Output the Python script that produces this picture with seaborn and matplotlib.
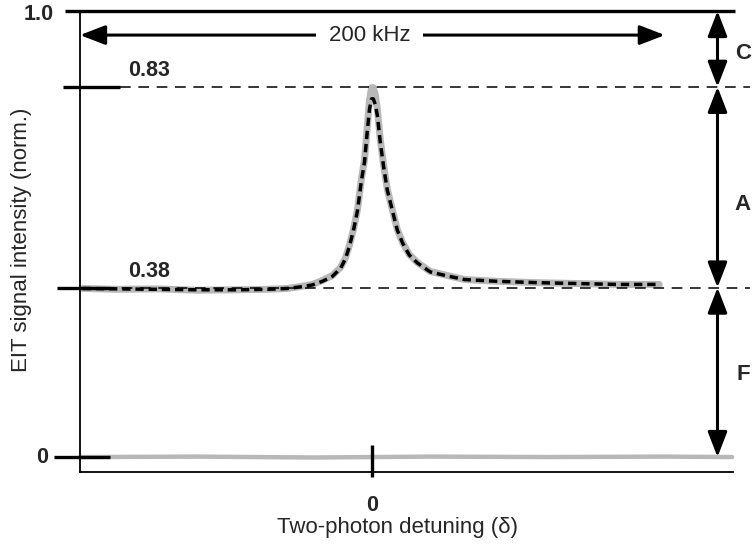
import numpy as np
import pandas as pd
import matplotlib
matplotlib.use("Agg")
import matplotlib.pyplot as plt
import matplotlib.transforms as mtransforms
import seaborn as sns

# ---- data ----
detuning_khz = [-99.1, -87.2, -73.5, -59.8, -46.2, -35.9, -29.1, -23.9, -20.5, -17.1,
                -13.7, -10.9, -9.2, -7.9, -6.5, -5.1, -3.8, -2.7, -1.7, -1.0,
                -0.3, 0.3, 1.0, 1.7, 2.7, 3.8, 5.1, 6.8, 8.5, 10.3,
                12.6, 15.4, 19.8, 25.6, 31.5, 42.7, 56.4, 70.1, 83.8, 98.1]
eit_signal = [0.378, 0.376, 0.377, 0.374, 0.375, 0.376, 0.378, 0.383, 0.387, 0.396,
              0.407, 0.425, 0.447, 0.474, 0.510, 0.555, 0.622, 0.667, 0.745, 0.801,
              0.828, 0.828, 0.812, 0.779, 0.711, 0.655, 0.600, 0.555, 0.510, 0.481,
              0.454, 0.436, 0.416, 0.407, 0.398, 0.394, 0.391, 0.389, 0.387, 0.387]
fit_signal = [0.378, 0.377, 0.376, 0.375, 0.375, 0.376, 0.378, 0.382, 0.386, 0.394,
              0.405, 0.423, 0.445, 0.472, 0.508, 0.553, 0.618, 0.662, 0.735, 0.780,
              0.803, 0.803, 0.790, 0.765, 0.705, 0.652, 0.598, 0.553, 0.509, 0.480,
              0.453, 0.435, 0.415, 0.406, 0.398, 0.394, 0.391, 0.389, 0.387, 0.387]
zero_detuning = [-100.0, -60.0, -20.0, 20.0, 60.0, 100.0, 123.0]
zero_signal = [0.0, 0.001, -0.001, 0.001, 0.0, 0.001, 0.0]

level_values = [1.0, 0.83, 0.38, 0.0]
level_labels = ["1.0", "0.83", "0.38", "0"]
x_tick_values = [0]
x_tick_labels = ["0"]
region_labels = ["C", "A", "F"]
span_label = "200 kHz"
span_khz = [-100, 100]

# ---- style ----
sns.set_theme(style="white")
plt.rcParams['font.family'] = ['Liberation Sans', 'DejaVu Sans']

fig = plt.figure(figsize=(7.56, 5.46), dpi=100)
ax = fig.add_axes([80/756, 1-472/546, 653/756, 461/546])

xmin, xmax = -100, 123.3
ymin, ymax = -0.0335, 1.0
ax.set_xlim(xmin, xmax)
ax.set_ylim(ymin, ymax)

df = pd.DataFrame({"x": detuning_khz, "data": eit_signal, "fit": fit_signal})
dz = pd.DataFrame({"x": zero_detuning, "y": zero_signal})

sns.lineplot(data=dz, x="x", y="y", ax=ax, color="#b8b8b8", lw=3.2, clip_on=False, sort=False)
sns.lineplot(data=df, x="x", y="data", ax=ax, color="#b8b8b8", lw=5.0, sort=False)
sns.lineplot(data=df, x="x", y="fit", ax=ax, color="black", lw=2.5, sort=False,
             dashes=False, linestyle=(0, (2.4, 1.4)))

# spines
for s in ["right", "top"]:
    ax.spines[s].set_visible(False)
ax.spines["left"].set_linewidth(1.3)
ax.spines["bottom"].set_linewidth(1.3)
ax.spines["left"].set_color("black")
ax.spines["bottom"].set_color("black")
ax.set_xticks([])
ax.set_yticks([])
ax.set_xlabel("")
ax.set_ylabel("")

W, H = 653.0, 461.0
blend = mtransforms.blended_transform_factory(ax.transAxes, ax.transData)

# top line at 1.0
ax.plot([-15/W, 655/W], [level_values[0]]*2, transform=blend, color="black", lw=2.4,
        clip_on=False, solid_capstyle="butt", zorder=8)
# level ticks
ax.plot([-17/W, 40/W], [level_values[1]]*2, transform=blend, color="black", lw=2.4, clip_on=False, solid_capstyle="butt")
ax.plot([-23/W, 30/W], [level_values[2]]*2, transform=blend, color="black", lw=2.4, clip_on=False, solid_capstyle="butt")
ax.plot([-26/W, 30/W], [level_values[3]]*2, transform=blend, color="black", lw=2.4, clip_on=False, solid_capstyle="butt")

# dashed reference lines
ax.plot([40/W, 670/W], [level_values[1]]*2, transform=blend, color="black", lw=1.1,
        ls=(0, (7, 5)), clip_on=False)
ax.plot([5/W, 670/W], [level_values[2]]*2, transform=blend, color="black", lw=1.1,
        ls=(0, (7, 5)), clip_on=False)

# level labels
ax.text(-26/W, level_values[0] - 0.008, level_labels[0], transform=blend, ha="right", va="center",
        fontsize=15.5, fontweight="bold")
ax.text(-32/W, level_values[3], level_labels[3], transform=blend, ha="right", va="center",
        fontsize=15.5, fontweight="bold")
ax.text(48/W, level_values[1] + 0.012, level_labels[1], transform=blend, ha="left", va="bottom",
        fontsize=15.5, fontweight="bold")
ax.text(48/W, level_values[2] + 0.012, level_labels[2], transform=blend, ha="left", va="bottom",
        fontsize=15.5, fontweight="bold")

# x tick
blendx = mtransforms.blended_transform_factory(ax.transData, ax.transAxes)
ax.plot([x_tick_values[0]]*2, [-5/H, 27/H], transform=blendx, color="black", lw=2.4,
        clip_on=False, solid_capstyle="butt")
ax.text(x_tick_values[0], -23/H, x_tick_labels[0], transform=blendx, ha="center", va="top",
        fontsize=15.5, fontweight="bold")
ax.text((277 - 80)/W, -45/H, "Two-photon detuning (δ)", transform=ax.transAxes, ha="left",
        va="top", fontsize=16)
fig.text(22/756, 1-108/546, "EIT signal intensity (norm.)", rotation=90, ha="center",
         va="top", fontsize=16)

# top span arrow
y_span = 0.946
astyle = "<|-|>,head_length=0.7,head_width=0.27"
ax.annotate("", xy=(span_khz[0], y_span), xytext=(span_khz[1], y_span),
            arrowprops=dict(arrowstyle=astyle, color="black", lw=2.2, mutation_scale=22,
                            shrinkA=0, shrinkB=0), annotation_clip=False, zorder=3)
ax.text(-1.0, y_span, span_label, ha="center", va="center", fontsize=16, zorder=5,
        bbox=dict(facecolor="white", edgecolor="none", pad=9))

# right region arrows
x_arr = 118.0
bounds = [(level_values[0], level_values[1]), (level_values[1], level_values[2]),
          (level_values[2], level_values[3])]
label_y = [0.904, 0.566, 0.186]
for lab, (a, b), ly in zip(region_labels, bounds, label_y):
    ax.annotate("", xy=(x_arr, a), xytext=(x_arr, b),
                arrowprops=dict(arrowstyle=astyle, color="black", lw=2.2, mutation_scale=22,
                                shrinkA=0, shrinkB=0), annotation_clip=False)
    ax.text(x_arr + 8.7, ly, lab, ha="center", va="center", fontsize=16,
            fontweight="bold", clip_on=False)

fig.savefig("out.png", dpi=100)
